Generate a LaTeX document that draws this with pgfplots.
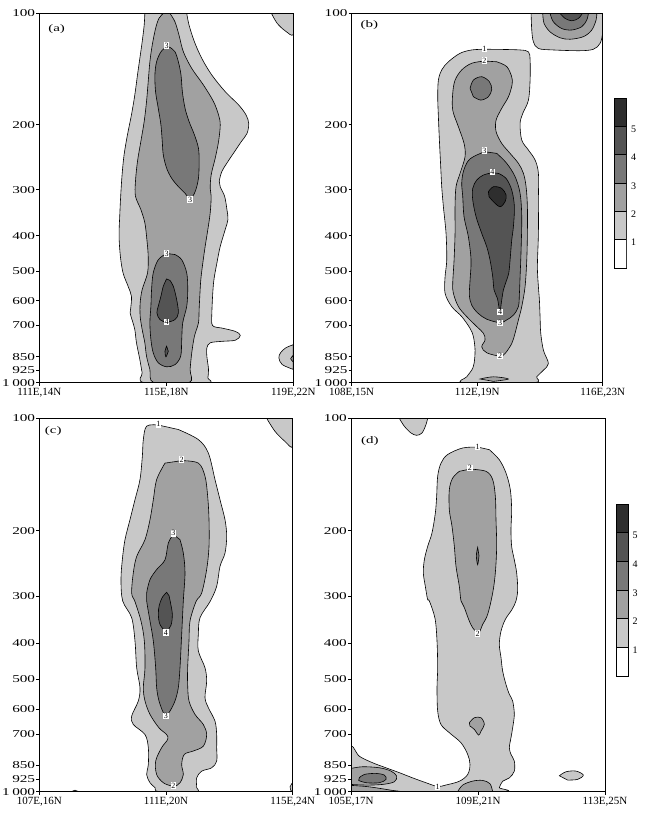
\documentclass[border=0pt]{standalone}
\usepackage{fontspec}
\setmainfont{Liberation Serif}
\usepackage{pgfplots}
\pgfplotsset{compat=1.18}

\definecolor{lvA}{gray}{0.785}
\definecolor{lvB}{gray}{0.63}
\definecolor{lvC}{gray}{0.47}
\definecolor{lvD}{gray}{0.33}
\definecolor{lvE}{gray}{0.18}

\newcommand\yl[1]{\scalebox{1.45}[1]{#1}}

% x: degrees along the section, y: log10(p/100 hPa)
\pgfplotsset{
  panel/.style={scale only axis, anchor=south west,
    xmin=0, xmax=8, ymin=0, ymax=1, y dir=reverse, axis on top,
    ytick={0,0.30103,0.47712,0.60206,0.69897,0.77815,0.8451,0.92942,0.96614,1},
    yticklabels={\yl{100},\yl{200},\yl{300},\yl{400},\yl{500},\yl{600},\yl{700},\yl{850},\yl{925},\yl{1\,000}},
    xtick={0,4,8}, tick align=outside, xtick pos=left, ytick pos=left,
    major tick length=3pt, tick style={black, line width=0.6pt},
    axis line style={black, line width=0.8pt},
    yticklabel style={font=\fontsize{10.5}{10.5}\selectfont, inner sep=1pt},
    xticklabel style={font=\fontsize{11}{11}\selectfont, inner sep=1pt, yshift=-1.5pt}},
  c1/.style={fill=lvA, draw=black, line width=0.6pt, smooth, tension=0.55},
  c2/.style={fill=lvB, draw=black, line width=0.6pt, smooth, tension=0.55},
  c3/.style={fill=lvC, draw=black, line width=0.6pt, smooth, tension=0.55},
  c4/.style={fill=lvD, draw=black, line width=0.6pt, smooth, tension=0.55},
  c5/.style={fill=lvE, draw=black, line width=0.6pt, smooth, tension=0.55},
  cbar/.style={scale only axis, anchor=south west, width=12pt,
    xmin=0, xmax=1, ymin=0, ymax=6, xtick=\empty,
    ytick={1,2,3,4,5}, yticklabels={1,2,3,4,5},
    ytick pos=right, yticklabel pos=right, major tick length=0pt,
    axis line style={black, line width=0.8pt},
    yticklabel style={font=\fontsize{10}{10}\selectfont, yshift=-3pt, xshift=1pt}},
}
\tikzset{cl/.style={fill=white, inner sep=0.6pt, font=\fontsize{8}{8}\selectfont},
  pl/.style={font=\fontsize{10}{10}\selectfont}}

\begin{document}
\begin{tikzpicture}
\path[use as bounding box] (0,0) rectangle (649pt,815pt);

% ---------------- (a)
\begin{axis}[panel, at={(39.3pt,432.3pt)}, width=254pt, height=369.3pt,
  xticklabels={{111E,14N},{115E,18N},{119E,22N}}]
\addplot[c1] coordinates {(3.324,0) (3.303,0.032) (3.240,0.077) (3.166,0.122) (3.092,0.167) (3.008,0.221) (2.902,0.275) (2.776,0.329) (2.670,0.383) (2.607,0.437) (2.565,0.492) (2.533,0.549) (2.512,0.603) (2.554,0.658) (2.639,0.703) (2.797,0.739) (2.902,0.766) (2.881,0.797) (2.860,0.811) (2.934,0.833) (3.008,0.856) (3.061,0.892) (3.166,0.937) (3.240,0.973) (3.324,1) (5.277,1) (5.309,0.987) (5.330,0.964) (5.277,0.928) (5.277,0.906) (5.383,0.892) (5.752,0.888) (6.174,0.885) (6.332,0.872) (6.174,0.861) (5.752,0.852) (5.457,0.845) (5.435,0.811) (5.488,0.730) (5.594,0.676) (5.699,0.631) (5.857,0.585) (5.942,0.558) (5.910,0.531) (5.836,0.495) (5.700,0.470) (5.668,0.455) (5.752,0.428) (5.942,0.401) (6.153,0.374) (6.364,0.347) (6.543,0.325) (6.596,0.298) (6.512,0.275) (6.280,0.248) (5.857,0.212) (5.435,0.167) (5.119,0.122) (4.887,0.077) (4.718,0.032) (4.644,0)} --cycle;
\addplot[c1] coordinates {(7.314,0) (7.493,0.027) (7.757,0.048) (8,0.057) (8,0)} --cycle;
\addplot[c1] coordinates {(8,0.897) (7.757,0.906) (7.599,0.919) (7.546,0.933) (7.652,0.951) (8,0.964)} --cycle;
\addplot[c2] coordinates {(8,0.926) (7.916,0.935) (8,0.944)} --cycle;
\addplot[c2] coordinates {(3.905,0) (3.768,0.0135) (3.662,0.041) (3.557,0.086) (3.483,0.131) (3.430,0.185) (3.377,0.239) (3.303,0.293) (3.198,0.347) (3.092,0.401) (3.029,0.455) (3.029,0.495) (3.198,0.531) (3.324,0.567) (3.388,0.612) (3.430,0.658) (3.409,0.703) (3.240,0.748) (3.177,0.784) (3.177,0.820) (3.240,0.856) (3.324,0.892) (3.377,0.928) (3.483,0.964) (3.609,1) (4.718,1) (4.749,0.964) (4.802,0.919) (4.887,0.874) (5.013,0.838) (5.034,0.802) (5.055,0.766) (5.087,0.721) (5.150,0.676) (5.224,0.631) (5.309,0.585) (5.383,0.540) (5.414,0.495) (5.383,0.4735) (5.414,0.437) (5.541,0.392) (5.646,0.347) (5.699,0.302) (5.646,0.275) (5.488,0.239) (5.171,0.194) (4.802,0.149) (4.538,0.104) (4.401,0.059) (4.274,0.023) (4.116,0)} --cycle;
\addplot[c3] coordinates {(4.010,0.090) (3.831,0.104) (3.694,0.131) (3.641,0.167) (3.662,0.212) (3.747,0.257) (3.831,0.302) (3.873,0.347) (3.905,0.383) (4.010,0.419) (4.169,0.4465) (4.380,0.469) (4.591,0.487) (4.749,0.502) (4.908,0.483) (5.013,0.4465) (5.034,0.401) (5.013,0.365) (4.887,0.329) (4.718,0.293) (4.591,0.257) (4.506,0.212) (4.464,0.167) (4.380,0.131) (4.274,0.104) (4.116,0.092)} --cycle;
\addplot[c3] coordinates {(4.010,0.650) (3.747,0.667) (3.588,0.703) (3.536,0.748) (3.515,0.793) (3.483,0.838) (3.515,0.883) (3.588,0.919) (3.747,0.946) (4.010,0.957) (4.274,0.951) (4.454,0.928) (4.486,0.883) (4.517,0.838) (4.644,0.793) (4.675,0.748) (4.644,0.703) (4.486,0.667) (4.274,0.653)} --cycle;
\addplot[c4] coordinates {(4.010,0.719) (3.905,0.739) (3.831,0.766) (3.747,0.793) (3.704,0.811) (3.799,0.829) (4.010,0.836) (4.274,0.829) (4.380,0.811) (4.327,0.775) (4.222,0.739) (4.116,0.723)} --cycle;
\addplot[c4] coordinates {(4.010,0.901) (3.958,0.915) (3.990,0.930) (4.063,0.915)} --cycle;
\node[cl] at (axis cs:4.010,0.0875) {3};
\node[cl] at (axis cs:4.749,0.504) {3};
\node[cl] at (axis cs:4.010,0.650) {3};
\node[cl] at (axis cs:4.010,0.836) {4};
\node[pl] at (axis cs:0.546,0.043) {\scalebox{1.5}[1]{(a)}};
\end{axis}

% ---------------- (b)
\begin{axis}[panel, at={(351.7pt,432.3pt)}, width=251pt, height=369.3pt,
  xticklabels={{108E,15N},{112E,19N},{116E,23N}}]
\addplot[c1] coordinates {(5.718,0) (5.739,0.045) (5.792,0.077) (5.951,0.095) (6.429,0.099) (7.280,0.101) (7.705,0.097) (7.917,0.081) (8,0.050) (8,0)} --cycle;
\addplot[c2] coordinates {(6.089,0) (6.132,0.027) (6.323,0.050) (6.642,0.066) (6.961,0.070) (7.386,0.063) (7.652,0.045) (7.790,0.018) (7.811,0)} --cycle;
\addplot[c3] coordinates {(6.323,0) (6.429,0.023) (6.695,0.041) (7.014,0.045) (7.333,0.036) (7.492,0.018) (7.545,0)} --cycle;
\addplot[c4] coordinates {(6.642,0) (6.801,0.0135) (7.014,0.020) (7.226,0.0135) (7.354,0)} --cycle;
\addplot[c1] coordinates {(4.230,0.097) (3.826,0.099) (3.454,0.108) (3.082,0.131) (2.869,0.153) (2.763,0.181) (2.742,0.226) (2.763,0.280) (2.795,0.343) (2.837,0.415) (2.869,0.469) (2.922,0.523) (3.007,0.596) (3.029,0.668) (2.976,0.713) (2.976,0.758) (3.188,0.794) (3.507,0.821) (3.773,0.853) (3.879,0.875) (3.932,0.912) (3.900,0.948) (3.826,0.966) (3.666,0.984) (3.581,1) (5.792,1) (5.898,0.984) (6.111,0.966) (6.270,0.948) (6.111,0.912) (6.026,0.866) (6.004,0.821) (5.983,0.776) (5.951,0.740) (5.919,0.686) (5.951,0.596) (5.951,0.505) (5.951,0.433) (5.845,0.397) (5.633,0.370) (5.420,0.343) (5.367,0.298) (5.452,0.271) (5.633,0.235) (5.686,0.181) (5.686,0.126) (5.633,0.104) (5.367,0.099) (4.729,0.0975)} --cycle;
\addplot[c2] coordinates {(4.230,0.129) (3.826,0.135) (3.507,0.153) (3.294,0.181) (3.220,0.217) (3.220,0.262) (3.401,0.307) (3.581,0.352) (3.613,0.388) (3.454,0.433) (3.326,0.469) (3.294,0.523) (3.294,0.596) (3.263,0.668) (3.220,0.731) (3.241,0.758) (3.401,0.794) (3.666,0.821) (3.985,0.848) (4.198,0.866) (4.251,0.884) (4.145,0.903) (4.304,0.919) (4.729,0.928) (4.888,0.921) (5.101,0.894) (5.207,0.866) (5.314,0.830) (5.420,0.794) (5.526,0.740) (5.580,0.668) (5.600,0.596) (5.600,0.523) (5.558,0.469) (5.473,0.433) (5.314,0.406) (5.048,0.379) (4.782,0.352) (4.602,0.320) (4.602,0.289) (4.782,0.257) (4.995,0.226) (5.112,0.193) (5.101,0.172) (4.942,0.144) (4.623,0.131)} --cycle;
\addplot[c2] coordinates {(4.091,0.990) (4.517,0.984) (4.995,0.990) (4.517,0.9964)} --cycle;
\addplot[c3] coordinates {(3.773,0.2031) (3.879,0.1805) (4.145,0.1715) (4.389,0.1850) (4.463,0.2058) (4.357,0.2256) (4.113,0.2347) (3.879,0.2256)} --cycle;
\addplot[c3] coordinates {(4.230,0.3745) (3.879,0.388) (3.698,0.401) (3.560,0.428) (3.507,0.460) (3.539,0.496) (3.581,0.551) (3.719,0.605) (3.804,0.668) (3.773,0.722) (3.751,0.763) (3.826,0.790) (4.028,0.812) (4.304,0.828) (4.729,0.8375) (4.942,0.830) (5.154,0.817) (5.314,0.794) (5.346,0.758) (5.367,0.713) (5.399,0.641) (5.420,0.551) (5.367,0.487) (5.207,0.442) (4.942,0.406) (4.623,0.379)} --cycle;
\addplot[c4] coordinates {(4.485,0.4314) (4.198,0.4377) (3.985,0.4513) (3.858,0.4738) (3.858,0.5054) (3.964,0.5505) (4.145,0.5957) (4.304,0.6318) (4.410,0.6679) (4.495,0.7130) (4.538,0.7491) (4.644,0.7716) (4.708,0.8032) (4.729,0.8077) (4.782,0.7762) (4.835,0.7491) (4.920,0.7265) (5.005,0.7040) (5.048,0.6679) (5.101,0.6137) (5.154,0.5776) (5.186,0.5235) (5.101,0.4783) (4.920,0.4467) (4.676,0.4332)} --cycle;
\addplot[c5] coordinates {(4.357,0.4828) (4.517,0.4693) (4.782,0.4738) (4.920,0.4919) (4.888,0.5099) (4.729,0.5235) (4.517,0.5099) (4.378,0.4964)} --cycle;
\node[cl] at (axis cs:4.230,0.0948) {1};
\node[cl] at (axis cs:4.230,0.128) {2};
\node[cl] at (axis cs:4.230,0.372) {3};
\node[cl] at (axis cs:4.485,0.429) {4};
\node[cl] at (axis cs:4.729,0.808) {4};
\node[cl] at (axis cs:4.729,0.838) {3};
\node[cl] at (axis cs:4.729,0.928) {2};
\node[pl] at (axis cs:0.563,0.032) {\scalebox{1.5}[1]{(b)}};
\end{axis}

% ---------------- (c)
\begin{axis}[panel, at={(39.3pt,23.3pt)}, width=253.4pt, height=373.4pt,
  xticklabels={{107E,16N},{111E,20N},{115E,24N}}]
\addplot[c1] coordinates {(7.179,0) (7.442,0.035) (7.758,0.062) (8,0.075) (8,0)} --cycle;
\addplot[c1] coordinates {(8,0.975) (7.916,0.987) (7.937,0.996) (8,1)} --cycle;
\addplot[c1] coordinates {(1.021,1) (1.126,0.996) (1.232,1)} --cycle;
\addplot[c1] coordinates {(3.758,0.018) (3.389,0.021) (3.284,0.057) (3.253,0.102) (3.179,0.164) (3.021,0.218) (2.863,0.2715) (2.705,0.325) (2.621,0.379) (2.579,0.432) (2.632,0.489) (2.916,0.534) (3.021,0.5965) (3.074,0.668) (3.179,0.7215) (3.126,0.757) (2.916,0.7975) (2.968,0.820) (3.337,0.847) (3.442,0.882) (3.442,0.927) (3.389,0.954) (3.495,0.976) (3.653,0.989) (3.789,1) (4.947,1) (4.968,0.989) (4.968,0.963) (5.126,0.945) (5.442,0.936) (5.600,0.918) (5.600,0.882) (5.600,0.847) (5.547,0.811) (5.337,0.775) (5.231,0.748) (5.284,0.704) (5.231,0.668) (5.021,0.623) (5.021,0.579) (5.074,0.534) (5.389,0.491) (5.600,0.450) (5.705,0.3965) (5.863,0.361) (5.916,0.316) (5.863,0.2715) (5.705,0.218) (5.547,0.164) (5.337,0.093) (5.021,0.057) (4.389,0.030)} --cycle;
\addplot[c2] coordinates {(4.495,0.1134) (5.021,0.120) (5.231,0.155) (5.316,0.209) (5.358,0.2715) (5.358,0.343) (5.284,0.405) (5.126,0.468) (4.947,0.491) (4.758,0.543) (4.726,0.5965) (4.684,0.668) (4.684,0.713) (4.726,0.757) (4.916,0.793) (5.179,0.820) (5.284,0.847) (5.179,0.878) (4.863,0.891) (4.579,0.900) (4.495,0.927) (4.547,0.954) (4.442,0.976) (4.263,0.987) (4.179,0.985) (3.916,0.976) (3.705,0.954) (3.674,0.918) (3.863,0.882) (4.053,0.860) (4.021,0.847) (3.779,0.829) (3.495,0.793) (3.337,0.757) (3.284,0.7215) (3.337,0.668) (3.316,0.5965) (3.211,0.543) (3.021,0.491) (2.916,0.468) (2.968,0.414) (3.074,0.370) (3.337,0.325) (3.495,0.2715) (3.600,0.218) (3.705,0.164) (3.968,0.120)} --cycle;
\addplot[c3] coordinates {(4.232,0.311) (4.074,0.334) (3.968,0.379) (3.705,0.405) (3.495,0.432) (3.389,0.468) (3.389,0.489) (3.495,0.543) (3.600,0.5965) (3.674,0.668) (3.705,0.7215) (3.779,0.757) (3.916,0.7885) (4.0,0.7975) (4.126,0.784) (4.284,0.757) (4.389,0.7215) (4.442,0.668) (4.495,0.579) (4.547,0.489) (4.600,0.414) (4.547,0.361) (4.442,0.325)} --cycle;
\addplot[c4] coordinates {(4.021,0.466) (3.895,0.478) (3.789,0.500) (3.758,0.525) (3.810,0.552) (4.0,0.570) (4.158,0.554) (4.200,0.525) (4.147,0.496) (4.095,0.475)} --cycle;
\node[cl] at (axis cs:3.758,0.016) {1};
\node[cl] at (axis cs:4.495,0.110) {2};
\node[cl] at (axis cs:4.231,0.308) {3};
\node[cl] at (axis cs:4.0,0.574) {4};
\node[cl] at (axis cs:4.0,0.797) {3};
\node[cl] at (axis cs:4.231,0.984) {2};
\node[pl] at (axis cs:0.442,0.034) {\scalebox{1.5}[1]{(c)}};
\end{axis}

% ---------------- (d)
\begin{axis}[panel, at={(351pt,23.3pt)}, width=254pt, height=373.4pt,
  xticklabels={{105E,17N},{109E,21N},{113E,25N}}]
\addplot[c1] coordinates {(1.522,0) (1.680,0.0214) (1.890,0.0393) (2.068,0.0455) (2.236,0.0393) (2.362,0.017) (2.415,0)} --cycle;
\addplot[c1] coordinates {(3.990,0.077) (3.517,0.0795) (3.045,0.097) (2.835,0.120) (2.730,0.155) (2.698,0.209) (2.656,0.254) (2.551,0.307) (2.415,0.343) (2.310,0.379) (2.278,0.414) (2.341,0.450) (2.415,0.486) (2.467,0.489) (2.646,0.536) (2.709,0.5965) (2.730,0.668) (2.709,0.7215) (2.730,0.784) (2.835,0.820) (3.097,0.842) (3.465,0.869) (3.675,0.900) (3.748,0.927) (3.675,0.954) (3.412,0.972) (2.992,0.982) (2.730,0.986) (2.362,0.976) (1.942,0.963) (1.522,0.949) (1.102,0.936) (0.682,0.9225) (0.262,0.905) (0,0.882) (0,1) (4.651,1) (4.672,0.989) (4.777,0.972) (4.987,0.963) (5.144,0.945) (5.144,0.918) (5.039,0.900) (4.987,0.882) (5.039,0.8555) (5.092,0.829) (5.144,0.793) (5.092,0.757) (4.987,0.739) (4.882,0.713) (4.777,0.677) (4.725,0.641) (4.672,0.6055) (4.725,0.570) (4.861,0.5385) (5.071,0.512) (5.197,0.489) (5.250,0.459) (5.218,0.414) (5.144,0.379) (5.060,0.343) (5.039,0.298) (5.060,0.245) (5.018,0.191) (4.882,0.1465) (4.672,0.111) (4.357,0.084)} --cycle;
\addplot[c1] coordinates {(6.562,0.9573) (6.772,0.9466) (7.087,0.9448) (7.318,0.9555) (7.139,0.967) (6.824,0.9689)} --cycle;
\addplot[c2] coordinates {(3.748,0.136) (4.252,0.142) (4.462,0.164) (4.546,0.209) (4.567,0.2715) (4.588,0.343) (4.546,0.414) (4.462,0.468) (4.305,0.525) (4.147,0.552) (4.021,0.574) (3.832,0.561) (3.706,0.5385) (3.570,0.507) (3.465,0.489) (3.412,0.450) (3.307,0.3965) (3.255,0.343) (3.181,0.289) (3.097,0.245) (3.097,0.191) (3.202,0.160) (3.412,0.142)} --cycle;
\addplot[c2] coordinates {(3.727,0.8153) (3.885,0.8019) (4.095,0.8019) (4.200,0.8198) (4.095,0.8376) (4.021,0.8484) (3.885,0.8332) (3.748,0.8242)} --cycle;
\addplot[c2] coordinates {(3.360,1) (3.517,0.9823) (3.832,0.9716) (4.147,0.9698) (4.378,0.9787) (4.462,1)} --cycle;
\addplot[c2] coordinates {(0,0.9377) (0.367,0.9332) (0.892,0.9359) (1.260,0.9448) (1.438,0.9582) (1.365,0.9734) (0.997,0.9805) (0.472,0.9823) (0,0.9805)} --cycle;
\addplot[c2] coordinates {(0,0.983) (0.577,0.987) (1.260,0.996) (1.5,1) (0,1)} --cycle;
\addplot[c3] coordinates {(0.262,0.9627) (0.420,0.9537) (0.787,0.951) (1.050,0.9555) (1.102,0.967) (0.892,0.976) (0.472,0.976) (0.241,0.9698)} --cycle;
\addplot[c3] coordinates {(3.990,0.3456) (3.948,0.368) (3.990,0.392) (4.032,0.368)} --cycle;
\node[cl] at (axis cs:3.990,0.077) {1};
\node[cl] at (axis cs:3.748,0.133) {2};
\node[cl] at (axis cs:3.990,0.576) {2};
\node[cl] at (axis cs:2.730,0.986) {1};
\node[pl] at (axis cs:0.598,0.060) {\scalebox{1.5}[1]{(d)}};
\end{axis}

% ---------------- colour keys
\begin{axis}[cbar, at={(614.7pt,547pt)}, height=170pt]
\addplot[fill=white, draw=black, line width=0.6pt] coordinates {(0,0) (1,0) (1,1) (0,1)} --cycle;
\addplot[fill=lvA, draw=black, line width=0.6pt] coordinates {(0,1) (1,1) (1,2) (0,2)} --cycle;
\addplot[fill=lvB, draw=black, line width=0.6pt] coordinates {(0,2) (1,2) (1,3) (0,3)} --cycle;
\addplot[fill=lvC, draw=black, line width=0.6pt] coordinates {(0,3) (1,3) (1,4) (0,4)} --cycle;
\addplot[fill=lvD, draw=black, line width=0.6pt] coordinates {(0,4) (1,4) (1,5) (0,5)} --cycle;
\addplot[fill=lvE, draw=black, line width=0.6pt] coordinates {(0,5) (1,5) (1,6) (0,6)} --cycle;
\end{axis}
\begin{axis}[cbar, at={(616pt,139pt)}, height=172pt]
\addplot[fill=white, draw=black, line width=0.6pt] coordinates {(0,0) (1,0) (1,1) (0,1)} --cycle;
\addplot[fill=lvA, draw=black, line width=0.6pt] coordinates {(0,1) (1,1) (1,2) (0,2)} --cycle;
\addplot[fill=lvB, draw=black, line width=0.6pt] coordinates {(0,2) (1,2) (1,3) (0,3)} --cycle;
\addplot[fill=lvC, draw=black, line width=0.6pt] coordinates {(0,3) (1,3) (1,4) (0,4)} --cycle;
\addplot[fill=lvD, draw=black, line width=0.6pt] coordinates {(0,4) (1,4) (1,5) (0,5)} --cycle;
\addplot[fill=lvE, draw=black, line width=0.6pt] coordinates {(0,5) (1,5) (1,6) (0,6)} --cycle;
\end{axis}
\end{tikzpicture}
\end{document}
